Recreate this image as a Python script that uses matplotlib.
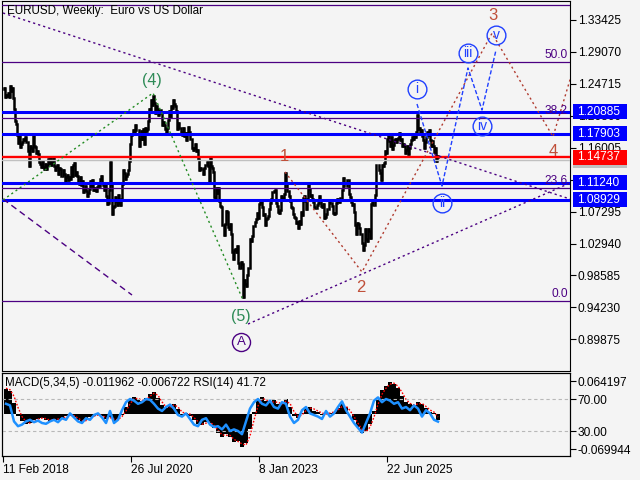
import matplotlib.pyplot as plt
from matplotlib.patches import Rectangle
from matplotlib.transforms import IdentityTransform

plt.rcParams['font.family'] = ['Liberation Sans', 'DejaVu Sans']

BG = '#f4f4f4'
PURPLE = '#4b0082'

# weekly closes, week 0 = 11 Feb 2018
closes = [
    1.2405, 1.2410, 1.2295, 1.2320, 1.2310, 1.2350, 1.2290, 1.2440, 1.2370, 1.2420,
    1.2285, 1.2130, 1.1960, 1.1930, 1.1770, 1.1660, 1.1770, 1.1610, 1.1655, 1.1680,
    1.1720, 1.1710, 1.1750, 1.1680, 1.1685, 1.1560, 1.1350, 1.1620, 1.1600, 1.1550,
    1.1780, 1.1620, 1.1605, 1.1525, 1.1560, 1.1510, 1.1400, 1.1385, 1.1335, 1.1415,
    1.1335, 1.1315, 1.1380, 1.1305, 1.1370, 1.1440, 1.1395, 1.1470, 1.1365, 1.1410,
    1.1455, 1.1345, 1.1295, 1.1335, 1.1365, 1.1240, 1.1325, 1.1305, 1.1220, 1.1215,
    1.1295, 1.1245, 1.1150, 1.1200, 1.1225, 1.1160, 1.1205, 1.1170, 1.1335, 1.1210,
    1.1370, 1.1390, 1.1225, 1.1270, 1.1220, 1.1125, 1.1110, 1.1200, 1.1090, 1.1145,
    1.0990, 1.1030, 1.1075, 1.1015, 1.0940, 1.0980, 1.1040, 1.1140, 1.1080, 1.1165,
    1.1020, 1.1050, 1.1020, 1.1015, 1.1060, 1.1120, 1.1080, 1.1175, 1.1215, 1.1120,
    1.1090, 1.1025, 1.1095, 1.0945, 1.0830, 1.0845, 1.1025, 1.1400, 1.1105, 1.0695,
    1.0790, 1.0805, 1.0935, 1.0875, 1.0820, 1.0955, 1.0840, 1.0820, 1.0900, 1.1100,
    1.1290, 1.1255, 1.1180, 1.1220, 1.1245, 1.1300, 1.1425, 1.1655, 1.1775, 1.1785,
    1.1840, 1.1795, 1.1905, 1.1840, 1.1845, 1.1840, 1.1630, 1.1715, 1.1825, 1.1715,
    1.1860, 1.1645, 1.1875, 1.1835, 1.1860, 1.1960, 1.2125, 1.2110, 1.2255, 1.2185,
    1.2310, 1.2215, 1.2080, 1.2170, 1.2135, 1.2045, 1.2120, 1.2120, 1.2075, 1.1915,
    1.1950, 1.1905, 1.1850, 1.1800, 1.1870, 1.1980, 1.2095, 1.2020, 1.2165, 1.2140,
    1.2245, 1.2190, 1.2170, 1.2105, 1.1860, 1.1935, 1.1865, 1.1875, 1.1810, 1.1770,
    1.1870, 1.1760, 1.1795, 1.1700, 1.1795, 1.1880, 1.1815, 1.1725, 1.1720, 1.1595,
    1.1575, 1.1600, 1.1645, 1.1560, 1.1570, 1.1445, 1.1290, 1.1320, 1.1315, 1.1315,
    1.1240, 1.1325, 1.1370, 1.1360, 1.1410, 1.1345, 1.1145, 1.1455, 1.1350, 1.1320,
    1.1265, 1.0930, 1.0910, 1.1050, 1.0985, 1.1045, 1.0875, 1.0810, 1.0795, 1.0545,
    1.0550, 1.0410, 1.0560, 1.0735, 1.0720, 1.0520, 1.0495, 1.0555, 1.0430, 1.0185,
    1.0085, 1.0210, 1.0225, 1.0185, 1.0260, 1.0035, 0.9965, 0.9955, 1.0040, 1.0015,
    0.9560, 0.9800, 0.9740, 0.9720, 0.9860, 0.9965, 0.9960, 1.0350, 1.0325, 1.0395,
    1.0535, 1.0535, 1.0585, 1.0635, 1.0705, 1.0645, 1.0830, 1.0855, 1.0870, 1.0795,
    1.0680, 1.0695, 1.0545, 1.0635, 1.0640, 1.0670, 1.0760, 1.0840, 1.0900, 1.0995,
    1.0990, 1.1015, 1.1020, 1.0850, 1.0805, 1.0720, 1.0710, 1.0750, 1.0940, 1.0895,
    1.0910, 1.0970, 1.1260, 1.1125, 1.1015, 1.1005, 1.0945, 1.0870, 1.0795, 1.0775,
    1.0700, 1.0660, 1.0645, 1.0570, 1.0590, 1.0510, 1.0595, 1.0565, 1.0730, 1.0685,
    1.0915, 1.0940, 1.0880, 1.0760, 1.0895, 1.1100, 1.1040, 1.0940, 1.0950, 1.0895,
    1.0855, 1.0790, 1.0785, 1.0775, 1.0820, 1.0840, 1.0940, 1.0890, 1.0810, 1.0790,
    1.0835, 1.0645, 1.0655, 1.0695, 1.0760, 1.0770, 1.0870, 1.0850, 1.0850, 1.0800,
    1.0705, 1.0690, 1.0715, 1.0840, 1.0905, 1.0880, 1.0855, 1.0910, 1.0915, 1.1025,
    1.1190, 1.1080, 1.1085, 1.1075, 1.1160, 1.1165, 1.0975, 1.0935, 1.0865, 1.0825,
    1.0835, 1.0720, 1.0540, 1.0420, 1.0575, 1.0565, 1.0505, 1.0430, 1.0425, 1.0305,
    1.0200, 1.0270, 1.0490, 1.0360, 1.0330, 1.0490, 1.0460, 1.0375, 1.0835, 1.0880,
    1.0815, 1.0825, 1.0960, 1.1360, 1.1365, 1.1365, 1.1300, 1.1250, 1.1165, 1.1365,
    1.1350, 1.1395, 1.1550, 1.1525, 1.1720, 1.1780, 1.1690, 1.1625, 1.1740, 1.1585,
    1.1640, 1.1700, 1.1720, 1.1685, 1.1715, 1.1735, 1.1800, 1.1700, 1.1715, 1.1625,
    1.1655, 1.1625, 1.1530, 1.1565, 1.1620, 1.1515, 1.1600, 1.1650, 1.1700, 1.1745,
    1.1720, 1.1760, 1.1745, 1.1820, 1.2050, 1.1850, 1.1870, 1.1800, 1.1840, 1.1760,
    1.1700, 1.1600, 1.1680, 1.1750, 1.1820, 1.1780, 1.1845, 1.1700, 1.1620, 1.1690,
    1.1620, 1.1540, 1.1600, 1.1420, 1.1490, 1.1474,
]

# indicator window, one reading every 4 weeks (weeks 3, 7, ..., 435)
ind_idx = list(range(3, 436, 4))
macd_hist = [
    0.048, 0.044, 0.020, -0.005, -0.015, -0.020, -0.018, -0.012, -0.010, -0.008,
    -0.012, -0.015, -0.010, -0.012, -0.008, -0.004, -0.002, -0.006, -0.012, -0.016,
    -0.012, -0.006, -0.004, -0.002, -0.005, -0.010, -0.006, -0.014, -0.010, -0.002,
    0.012, 0.026, 0.032, 0.028, 0.024, 0.030, 0.038, 0.042, 0.030, 0.016,
    0.010, 0.016, 0.018, 0.008, -0.002, 0.002, -0.004, -0.012, -0.020, -0.022,
    -0.016, -0.018, -0.028, -0.038, -0.046, -0.040, -0.046, -0.056, -0.054, -0.066,
    -0.058, -0.030, 0.004, 0.026, 0.032, 0.024, 0.020, 0.026, 0.018, 0.020,
    0.028, 0.012, -0.004, -0.008, 0.002, 0.010, 0.012, 0.006, 0.004, -0.002,
    0.000, 0.002, 0.004, 0.010, 0.018, 0.012, 0.000, -0.012, -0.026, -0.038,
    -0.034, -0.020, 0.006, 0.030, 0.046, 0.054, 0.062, 0.058, 0.050, 0.034,
    0.022, 0.018, 0.016, 0.022, 0.018, 0.010, 0.004, 0.002, -0.012,
]
macd_signal = [
    0.050, 0.047, 0.034, 0.012, -0.006, -0.016, -0.019, -0.015, -0.011, -0.009,
    -0.010, -0.013, -0.012, -0.011, -0.010, -0.006, -0.003, -0.004, -0.009, -0.014,
    -0.014, -0.009, -0.005, -0.003, -0.004, -0.008, -0.008, -0.011, -0.012, -0.006,
    0.005, 0.019, 0.029, 0.030, 0.026, 0.027, 0.034, 0.040, 0.036, 0.023,
    0.013, 0.013, 0.017, 0.013, 0.003, 0.000, -0.001, -0.008, -0.016, -0.021,
    -0.019, -0.017, -0.023, -0.033, -0.042, -0.043, -0.043, -0.051, -0.055, -0.060,
    -0.062, -0.044, -0.013, 0.015, 0.029, 0.028, 0.022, 0.023, 0.022, 0.019,
    0.024, 0.020, 0.004, -0.006, -0.003, 0.006, 0.011, 0.009, 0.005, 0.001,
    -0.001, 0.001, 0.003, 0.007, 0.014, 0.015, 0.006, -0.006, -0.019, -0.032,
    -0.036, -0.027, -0.007, 0.018, 0.038, 0.050, 0.058, 0.060, 0.054, 0.042,
    0.028, 0.020, 0.017, 0.019, 0.020, 0.014, 0.007, 0.003, -0.007,
]
rsi_vals = [
    64, 62, 42, 36, 38, 42, 44, 41, 43, 40,
    39, 42, 44, 41, 46, 44, 52, 47, 42, 40,
    46, 44, 50, 52, 47, 40, 55, 40, 44, 56,
    66, 70, 68, 64, 66, 70, 69, 64, 58, 55,
    60, 63, 58, 50, 48, 52, 45, 38, 36, 44,
    46, 38, 35, 36, 32, 38, 30, 32, 30, 26,
    42, 58, 66, 70, 64, 62, 68, 60, 58, 66,
    64, 48, 40, 44, 56, 60, 52, 50, 48, 45,
    55, 48, 52, 60, 67, 56, 48, 40, 34, 28,
    40, 52, 68, 72, 66, 70, 68, 64, 66, 58,
    60, 56, 62, 58, 48, 56, 52, 44, 41.72,
]

price_ticks = [1.33425, 1.29070, 1.24715, 1.20360, 1.16005, 1.11650,
               1.07295, 1.02940, 0.98585, 0.94230, 0.89875]
date_idx = [0, 128, 256, 384]
date_labels = ['11 Feb 2018', '26 Jul 2020', '8 Jan 2023', '22 Jun 2025']

# levels and Elliott wave markup
fib_low, fib_high = 0.9506, 1.6036
fib_levels = [0.0, 23.6, 38.2, 50.0, 61.8]
blue_levels = [1.20885, 1.17903, 1.11240, 1.08929]
bid_price = 1.14737
gray_price = 1.1431

green_wave_x = [0, 150, 240]
green_wave_y = [1.0888, 1.2347, 0.9524]
red_wave_x = [282, 359, 489, 550, 572]
red_wave_y = [1.1270, 0.9906, 1.3161, 1.1751, 1.2756]
blue_wave_x = [414, 439, 465, 479, 493]
blue_wave_y = [1.2197, 1.1078, 1.2688, 1.2115, 1.2933]
trend_down_x, trend_down_y = [0, 567], [1.3438, 1.0901]
trend_low_x, trend_low_y = [0, 129], [1.0901, 0.9592]
trend_up_x, trend_up_y = [245, 567], [0.9196, 1.1119]

fig = plt.figure(figsize=(6.4, 4.8), dpi=100, facecolor=BG)


def px_axes(left, top, right, bottom):
    return fig.add_axes([left / 640, 1 - bottom / 480, (right - left) / 640, (bottom - top) / 480])


ax = px_axes(2, 1, 570, 371)
ax.set_facecolor(BG)
ax.set_xlim(-1, 567)
ax.set_ylim(0.85553, 1.36016)
for s in ax.spines.values():
    s.set_linewidth(0.8)
ax.set_xticks([])
ax.yaxis.tick_right()
ax.set_yticks(price_ticks)
ax.set_yticklabels([f'{t:.5f}' for t in price_ticks])
ax.tick_params(axis='y', length=4, width=0.8, pad=1.5, labelsize=8.6)

# price bars (previous close -> close)
xs = list(range(len(closes)))
opens = [closes[0]] + closes[:-1]
ax.vlines(xs, [min(a, b) for a, b in zip(opens, closes)],
          [max(a, b) for a, b in zip(opens, closes)], color='black', lw=1.8,
          capstyle='projecting', zorder=2)

# fibonacci levels
for pct in fib_levels:
    lvl = fib_low + (fib_high - fib_low) * pct / 100
    ax.axhline(lvl, color=PURPLE, lw=0.9, zorder=3)
    if pct < 60:
        ax.annotate(f'{pct:.1f}', xy=(1, lvl), xycoords=('axes fraction', 'data'),
                    xytext=(-1.5, 1), textcoords='offset points', ha='right', va='bottom',
                    color=PURPLE, fontsize=8.6, zorder=6)

for lvl in blue_levels:
    ax.axhline(lvl, color='#0000ff', lw=2.2, zorder=3)
ax.axhline(gray_price, color='#c0c0c0', lw=1, zorder=3)
ax.axhline(bid_price, color='#ff0000', lw=1.7, zorder=3)

# trend lines
ax.plot(trend_down_x, trend_down_y, color=PURPLE, lw=1, dashes=(1.6, 2.2), zorder=4)
ax.plot(trend_low_x, trend_low_y, color=PURPLE, lw=1, dashes=(4.5, 3), zorder=4)
ax.plot(trend_up_x, trend_up_y, color=PURPLE, lw=1, dashes=(1.6, 2.2), zorder=4)

# wave paths
ax.plot(green_wave_x, green_wave_y, color='#228b22', lw=1, dashes=(1.5, 2.2), zorder=4)
ax.plot(red_wave_x, red_wave_y, color='#b03a2e', lw=1, dashes=(1.5, 2.2), zorder=4)
ax.plot(blue_wave_x, blue_wave_y, color='#2040ff', lw=1, dashes=(3, 1.6), zorder=4)

# wave labels
for txt, xi, yi in [('(4)', 149, 1.2524), ('(5)', 238, 0.9292)]:
    ax.text(xi, yi, txt, color='#2e8b57', fontsize=11.5, ha='center', va='center', zorder=6)
for txt, xi, yi in [('1', 281, 1.1478), ('2', 358, 0.9697), ('3', 490, 1.3401), ('4', 550, 1.1546)]:
    ax.text(xi, yi, txt, color='#c0503a', fontsize=12, ha='center', va='center', zorder=6)
for txt, xi, yi in [('i', 414, 1.2401), ('ii', 439, 1.0842), ('iii', 465, 1.2896),
                    ('iv', 479, 1.1897), ('v', 493, 1.3138)]:
    ax.plot(xi, yi, 'o', ms=13.5, mfc='none', mec='#2040ff', mew=1, zorder=6)
    ax.text(xi, yi, txt, color='#2040ff', fontsize=10, ha='center', va='center', zorder=6)
ax.plot(238, 0.8955, 'o', ms=13, mfc='none', mec=PURPLE, mew=1, zorder=6)
ax.text(238, 0.8955, 'A', color=PURPLE, fontsize=9.5, ha='center', va='center', zorder=6)

fig.text(7 / 640, 1 - 11 / 480, 'EURUSD, Weekly:  Euro vs US Dollar', fontsize=8.4, va='center')


def price_tag(p, txt, fc, z):
    yd = ax.transData.transform((0, p))[1]
    x0 = ax.transAxes.transform((1, 0))[0] + 3
    fig.add_artist(Rectangle((x0, yd - 7.5), 54, 15, transform=IdentityTransform(),
                             fc=fc, ec='none', zorder=z))
    fig.text(x0 + 4, yd, txt, transform=IdentityTransform(), color='white',
             fontsize=8.6, ha='left', va='center', zorder=z + 0.5)


price_tag(gray_price, '1.14311', '#c0c0c0', 5)
price_tag(bid_price, f'{bid_price:.5f}', '#ff0000', 6)
for lvl in blue_levels:
    price_tag(lvl, f'{lvl:.5f}', '#0000ff', 7)

# indicator window: MACD(5,34,5) + RSI(14)
axm = px_axes(2, 373, 570, 456)
axm.set_facecolor(BG)
axr = axm.twinx()
axm.set_xlim(-1, 567)
axm.set_ylim(-0.08375, 0.07998)
axr.set_ylim(-1.25, 102.5)
for a in (axm, axr):
    for s in a.spines.values():
        s.set_linewidth(0.8)

axm.bar(ind_idx, macd_hist, width=4, color='black', lw=0, zorder=2)
axm.plot(ind_idx, macd_signal, color='red', lw=1, dashes=(1.2, 1.2), zorder=3)
axr.axhline(70, color='#b8b8b8', lw=0.8, dashes=(3, 2.5), zorder=1)
axr.axhline(30, color='#b8b8b8', lw=0.8, dashes=(3, 2.5), zorder=1)
axr.plot(ind_idx, rsi_vals, color='#1e90ff', lw=1.8, zorder=4)

axm.yaxis.tick_right()
axm.set_yticks([0.064197, -0.069944])
axm.set_yticklabels(['0.064197', '-0.069944'])
axr.set_yticks([70, 30])
axr.set_yticklabels(['70.00', '30.00'])
for a in (axm, axr):
    a.tick_params(axis='y', length=4, width=0.8, pad=1.5, labelsize=8.6)
axm.set_xticks(date_idx)
axm.set_xticklabels(date_labels, ha='left')
axm.tick_params(axis='x', length=4, width=0.8, pad=2, labelsize=8.6)

fig.text(5 / 640, 1 - 383 / 480, 'MACD(5,34,5) -0.011962 -0.006722 RSI(14) 41.72',
         fontsize=8.4, va='center')

fig.savefig('out.png', dpi=100, facecolor=BG)
